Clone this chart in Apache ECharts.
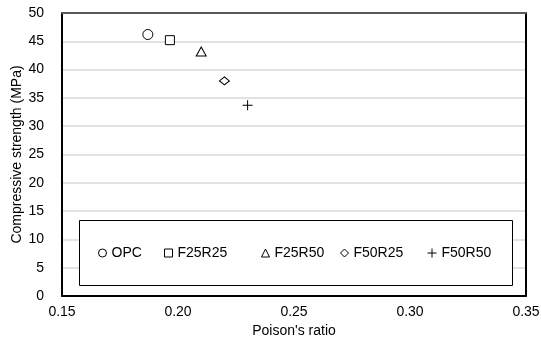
<!DOCTYPE html>
<html>
<head>
<meta charset="utf-8">
<script src="https://cdn.jsdelivr.net/npm/echarts@6/dist/echarts.min.js"></script>
<style>
html,body{margin:0;padding:0;background:#fff;}
#chart{width:541px;height:342px;}
</style>
</head>
<body>
<div id="chart"></div>
<script>
// ---- data ----
const seriesNames = ['OPC', 'F25R25', 'F25R50', 'F50R25', 'F50R50'];
const poissonRatio = [0.187, 0.1965, 0.210, 0.220, 0.230];
const strengthMPa = [46.2, 45.2, 43.2, 38.0, 33.7];
const xTickMin = 0.15, xTickMax = 0.35, xTickStep = 0.05;
const yTickMin = 0, yTickMax = 50, yTickStep = 5;
const xAxisTitle = "Poison's ratio";
const yAxisTitle = 'Compressive strength (MPa)';

// ---- styles ----
const FONT = '"Liberation Sans", Arial, sans-serif';
const symbols = [
  'circle',
  'rect',
  'triangle',
  'path://M5,0 L10,5 L5,10 L0,5 Z',
  'path://M0,5 L10,5 M5,0 L5,10'
];
const symbolSizes = [10, 9, [10, 9], [10, 8], 10];
const legendLeft = [98, 164, 261, 340, 427];
const legendIconSize = [8, 8, 8, 8, 9];

const hollow = { color: '#fff', borderColor: '#000', borderWidth: 1, opacity: 1 };

const series = seriesNames.map((n, i) => ({
  name: n,
  type: 'scatter',
  symbol: symbols[i],
  symbolSize: symbolSizes[i],
  itemStyle: hollow,
  emphasis: { disabled: true },
  data: [[poissonRatio[i], strengthMPa[i]]],
  z: 5
}));

const legends = seriesNames.map((n, i) => ({
  data: [{ name: n, icon: symbols[i] }],
  left: legendLeft[i],
  top: 246,
  padding: 0,
  itemWidth: legendIconSize[i],
  itemHeight: legendIconSize[i],
  itemGap: 0,
  selectedMode: false,
  itemStyle: { color: '#fff', borderColor: '#000', borderWidth: 1 },
  textStyle: { fontFamily: FONT, fontSize: 14, color: '#000', padding: [0, 0, 0, 0] },
  z: 6
}));

const chart = echarts.init(document.getElementById('chart'), null, { renderer: 'canvas' });
chart.setOption({
  animation: false,
  backgroundColor: '#fff',
  grid: { left: 62, right: 15, top: 13, bottom: 46, containLabel: false, outerBoundsMode: 'none' },
  xAxis: [{
    type: 'value',
    min: xTickMin, max: xTickMax, interval: xTickStep,
    name: xAxisTitle, nameLocation: 'middle', nameGap: 28, nameMoveOverlap: false,
    nameTextStyle: { fontFamily: FONT, fontSize: 14, color: '#000' },
    axisLine: { show: true, lineStyle: { color: '#000', width: 2 } },
    axisTick: { show: false },
    axisLabel: { fontFamily: FONT, fontSize: 14, color: '#000', margin: 9,
      formatter: v => v.toFixed(2) },
    splitLine: { show: false }
  }, {
    type: 'value', position: 'top',
    min: xTickMin, max: xTickMax,
    axisLine: { show: true, onZero: false, lineStyle: { color: '#595959', width: 2 } },
    axisTick: { show: false }, axisLabel: { show: false }, splitLine: { show: false }
  }],
  yAxis: [{
    type: 'value',
    min: yTickMin, max: yTickMax, interval: yTickStep,
    name: yAxisTitle, nameLocation: 'middle', nameGap: 38, nameMoveOverlap: false,
    nameTextStyle: { fontFamily: FONT, fontSize: 14, color: '#000' },
    axisLine: { show: true, lineStyle: { color: '#000', width: 2 } },
    axisTick: { show: false },
    axisLabel: { fontFamily: FONT, fontSize: 14, color: '#000', margin: 18 },
    splitLine: { show: true, lineStyle: { color: '#d9d9d9', width: 1.5 } }
  }, {
    type: 'value', position: 'right',
    min: yTickMin, max: yTickMax,
    axisLine: { show: true, onZero: false, lineStyle: { color: '#000', width: 2 } },
    axisTick: { show: false }, axisLabel: { show: false }, splitLine: { show: false }
  }],
  legend: legends,
  graphic: {
    elements: [{
      type: 'rect',
      z: 3,
      shape: { x: 79.5, y: 220.5, width: 433, height: 65 },
      style: { fill: '#fff', stroke: '#000', lineWidth: 1 }
    }]
  },
  series: series
});
</script>
</body>
</html>
